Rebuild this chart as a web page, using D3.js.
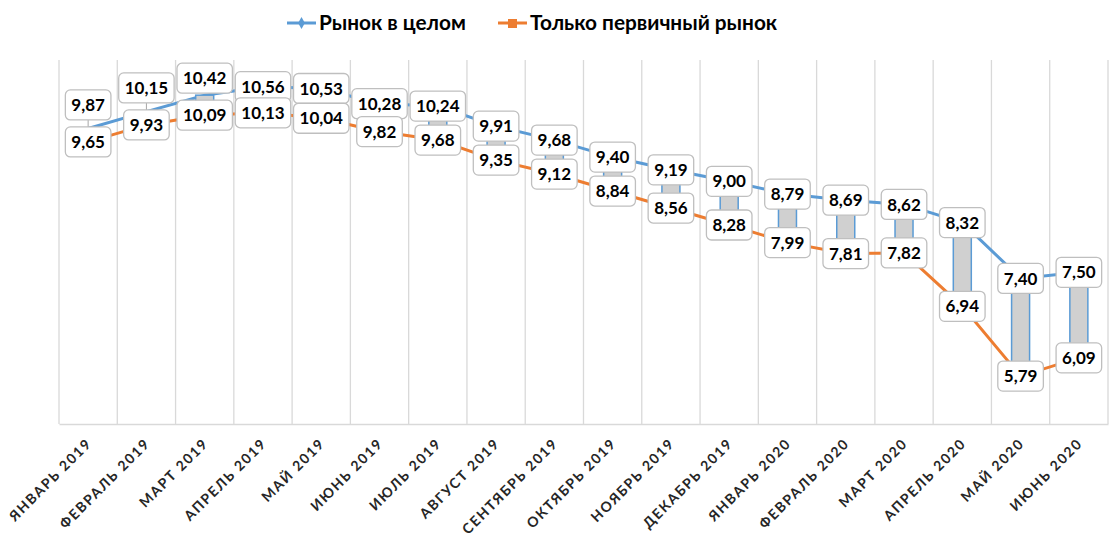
<!DOCTYPE html>
<html>
<head>
<meta charset="utf-8">
<script src="https://cdn.jsdelivr.net/npm/d3@7"></script>
<style>
  body { margin: 0; background: #fff; }
  svg { display: block; font-family: Lato, 'Open Sans', sans-serif; }
</style>
</head>
<body>
<svg id="chart" width="1112" height="543"></svg>
<script>
const months = [
  'ЯНВАРЬ 2019', 'ФЕВРАЛЬ 2019', 'МАРТ 2019', 'АПРЕЛЬ 2019', 'МАЙ 2019', 'ИЮНЬ 2019',
  'ИЮЛЬ 2019', 'АВГУСТ 2019', 'СЕНТЯБРЬ 2019', 'ОКТЯБРЬ 2019', 'НОЯБРЬ 2019', 'ДЕКАБРЬ 2019',
  'ЯНВАРЬ 2020', 'ФЕВРАЛЬ 2020', 'МАРТ 2020', 'АПРЕЛЬ 2020', 'МАЙ 2020', 'ИЮНЬ 2020'
]
const marketTotal = [9.87, 10.15, 10.42, 10.56, 10.53, 10.28, 10.24, 9.91, 9.68, 9.40, 9.19, 9.00, 8.79, 8.69, 8.62, 8.32, 7.40, 7.50]
const primaryOnly = [9.65, 9.93, 10.09, 10.13, 10.04, 9.82, 9.68, 9.35, 9.12, 8.84, 8.56, 8.28, 7.99, 7.81, 7.82, 6.94, 5.79, 6.09]
const seriesNames = ['Рынок в целом', 'Только первичный рынок']

const blue = '#5b9bd5'
const orange = '#ed7d31'

const margin = { left: 59, right: 1108, top: 60, bottom: 424 }

const svg = d3.select('#chart')

const x = d3.scaleBand().domain(months).range([margin.left, margin.right]).padding(0)
const y = d3.scaleLinear().domain([5, 11]).range([margin.bottom, margin.top])
const cx = (d) => x(d) + x.bandwidth() / 2

// vertical grid lines at category boundaries
const bounds = months.map((m) => x(m)).concat([margin.right])
svg.append('g')
  .selectAll('line')
  .data(bounds)
  .enter()
  .append('line')
  .attr('x1', (d) => d).attr('x2', (d) => d)
  .attr('y1', margin.top).attr('y2', margin.bottom)
  .attr('stroke', '#d9d9d9')
  .attr('stroke-width', 1.3)

const xAxis = d3.axisBottom(x).tickSize(0).tickFormat((d) => d)
const gx = svg.append('g')
  .attr('transform', `translate(0, ${margin.bottom})`)
  .call(xAxis)
gx.select('.domain').attr('stroke', '#d9d9d9').attr('stroke-width', 1.5)
gx.selectAll('.tick text')
  .attr('text-anchor', 'end')
  .attr('x', 0)
  .attr('y', 0)
  .attr('dy', '0.35em')
  .attr('transform', 'translate(1, 17) rotate(-45)')
  .style('font-family', 'Lato, sans-serif')
  .style('font-size', '14px')
  .style('font-weight', 'bold')
  .style('letter-spacing', '1.6px')
  .attr('fill', '#262626')

// lines
const line = d3.line().x((d, i) => cx(months[i])).y((d) => y(d))
svg.append('path').datum(marketTotal).attr('d', line)
  .attr('fill', 'none').attr('stroke', blue).attr('stroke-width', 3)
svg.append('path').datum(primaryOnly).attr('d', line)
  .attr('fill', 'none').attr('stroke', orange).attr('stroke-width', 3)

// up-down bars
svg.append('g')
  .selectAll('rect')
  .data(months)
  .enter()
  .append('rect')
  .attr('x', (d) => cx(d) - 9)
  .attr('width', 18)
  .attr('y', (d, i) => y(marketTotal[i]))
  .attr('height', (d, i) => y(primaryOnly[i]) - y(marketTotal[i]))
  .attr('fill', '#d0d0d0')
  .attr('stroke', blue)
  .attr('stroke-width', 1.5)

// data labels
const fmt = (v) => v.toFixed(2).replace('.', ',')
const labels = []
months.forEach((m, i) => {
  const yo = y(primaryOnly[i])
  let yb = y(marketTotal[i])
  const py = yb
  if (yo - yb < 24) yb = Math.min(yb, yo - 37)
  labels.push({ x: cx(m), y: yb, py: py, v: marketTotal[i] })
  labels.push({ x: cx(m), y: yo, py: yo, v: primaryOnly[i] })
})

const lg = svg.append('g')
lg.selectAll('line')
  .data(labels.filter((d) => d.py - d.y > 18))
  .enter()
  .append('line')
  .attr('x1', (d) => d.x).attr('x2', (d) => d.x)
  .attr('y1', (d) => d.y + 15).attr('y2', (d) => d.py)
  .attr('stroke', '#a6a6a6').attr('stroke-width', 1)

const lab = lg.selectAll('g.lab')
  .data(labels)
  .enter()
  .append('g')
  .attr('class', 'lab')
  .attr('transform', (d) => `translate(${d.x}, ${d.y})`)
lab.append('text')
  .attr('text-anchor', 'middle')
  .attr('dy', '0.36em')
  .style('font-size', '17px')
  .style('font-weight', 'bold')
  .attr('fill', '#000')
  .text((d) => fmt(d.v))
lab.each(function () {
  const g = d3.select(this)
  const w = g.select('text').node().getComputedTextLength() + 12
  g.insert('rect', 'text')
    .attr('x', -w / 2).attr('y', -15)
    .attr('width', w).attr('height', 30)
    .attr('rx', 5)
    .attr('fill', '#fff')
    .attr('stroke', '#bfbfbf')
    .attr('stroke-width', 1.3)
})

// legend
const legend = svg.append('g')
const items = [
  { name: seriesNames[0], color: blue, x0: 287, marker: 'diamond' },
  { name: seriesNames[1], color: orange, x0: 498, marker: 'square' }
]
items.forEach((it) => {
  legend.append('line')
    .attr('x1', it.x0).attr('x2', it.x0 + 29)
    .attr('y1', 23).attr('y2', 23)
    .attr('stroke', it.color).attr('stroke-width', 3)
  if (it.marker === 'diamond') {
    legend.append('path')
      .attr('d', d3.symbol(d3.symbolDiamond, 40)())
      .attr('transform', `translate(${it.x0 + 14.5}, 23)`)
      .attr('fill', it.color)
  } else {
    legend.append('rect')
      .attr('x', it.x0 + 10).attr('y', 19)
      .attr('width', 9).attr('height', 9)
      .attr('fill', it.color)
  }
  legend.append('text')
    .attr('x', it.x0 + 32).attr('y', 30)
    .style('font-size', '20.8px')
    .style('font-weight', 'bold')
    .attr('fill', '#000')
    .text(it.name)
})
</script>
</body>
</html>
